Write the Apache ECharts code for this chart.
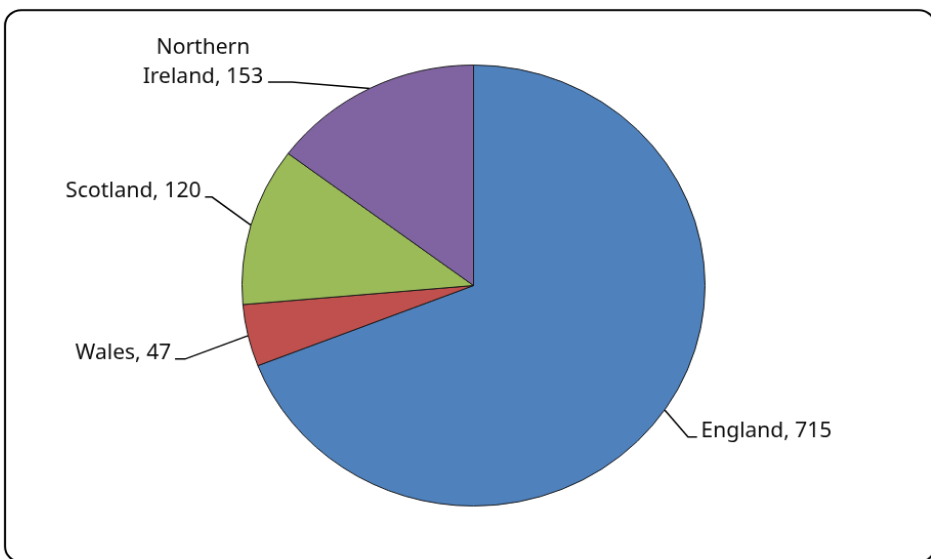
<!DOCTYPE html>
<html>
<head>
<meta charset="utf-8">
<script src="https://cdn.jsdelivr.net/npm/echarts@6/dist/echarts.min.js"></script>
<style>
html,body{margin:0;padding:0;background:#fff;overflow:hidden;width:931px;height:559px;}
#chart{width:931px;height:580px;transform-origin:473.5px 285.5px;}
</style>
</head>
<body>
<div id="chart"></div>
<script>
// Data
const categories = ['England', 'Wales', 'Scotland', 'Northern\nIreland'];
const values = [715, 47, 120, 153];
const colors = ['#4F81BD', '#C0504D', '#9BBB59', '#8064A2'];

// Layout: the reference pie is slightly elliptical
const CX = 473.5, CY = 285.5, R = 226;
const SX = 231.5 / R, SY = 220.5 / R;
document.getElementById('chart').style.transform = 'scale(' + SX + ',' + SY + ')';
const toLocal = (p) => [CX + (p[0] - CX) / SX, CY + (p[1] - CY) / SY];

// Label placement in screen pixels (layout only)
const labelPlace = [
  { pos: [701, 431], align: 'left',   bend: [688, 437], end: [697, 437] },
  { pos: [171, 353], align: 'right',  bend: [185, 359], end: [175, 359] },
  { pos: [201, 191], align: 'right',  bend: [212, 197], end: [205, 197] },
  { pos: [203, 63],  align: 'center', bend: [292, 82],  end: [268, 82] }
];

const frameTL = toLocal([5, 10]);
const frameBR = toLocal([935, 562]);

const chart = echarts.init(document.getElementById('chart'), null, { renderer: 'canvas' });

const option = {
  backgroundColor: '#ffffff',
  animation: false,
  graphic: [{
    type: 'rect',
    shape: { x: frameTL[0], y: frameTL[1], width: frameBR[0] - frameTL[0], height: frameBR[1] - frameTL[1], r: 16 },
    style: { fill: 'none', stroke: '#000', lineWidth: 2 },
    z: 0
  }],
  series: [{
    type: 'pie',
    center: [CX, CY],
    radius: R,
    startAngle: 90,
    clockwise: true,
    avoidLabelOverlap: false,
    data: categories.map((c, i) => ({
      name: c,
      value: values[i],
      itemStyle: { color: colors[i] }
    })),
    itemStyle: { borderColor: '#1a1a1a', borderWidth: 1 },
    label: {
      show: true,
      position: 'outside',
      formatter: p => p.name + ', ' + p.value,
      fontFamily: 'Noto Sans',
      fontSize: 21,
      lineHeight: 30,
      color: '#0d0d0d'
    },
    labelLine: {
      show: true,
      length: 20,
      length2: 10,
      lineStyle: { color: '#000', width: 1.5 }
    },
    emphasis: { disabled: true },
    labelLayout: function (params) {
      const lp = labelPlace[params.dataIndex];
      const bend = toLocal(lp.bend), end = toLocal(lp.end), pos = toLocal(lp.pos);
      const start = params.labelLinePoints ? params.labelLinePoints[0] : bend;
      return {
        x: pos[0],
        y: pos[1],
        align: lp.align,
        verticalAlign: 'middle',
        labelLinePoints: [start, bend, end]
      };
    }
  }]
};
chart.setOption(option);
</script>
</body>
</html>
